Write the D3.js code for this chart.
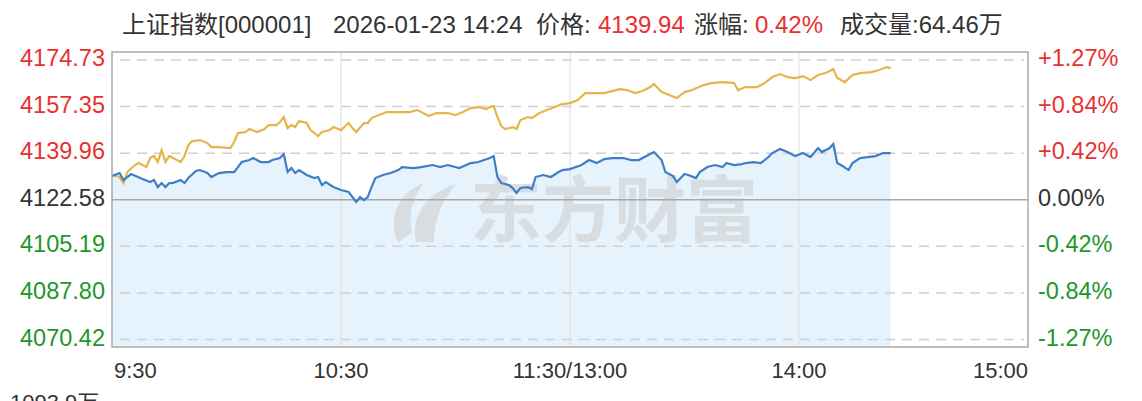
<!DOCTYPE html>
<html>
<head>
<meta charset="utf-8">
<script src="https://cdn.jsdelivr.net/npm/d3@7"></script>
<style>
  html, body { margin: 0; padding: 0; background: #fff; overflow: hidden; }
  text { font-family: "Liberation Sans", Arial, "Noto Sans CJK SC", sans-serif; }
</style>
</head>
<body>
<div class="visHolder"></div>
<script>
// ========================================
// Data (minutes since 9:30, lunch break removed)
// ========================================
const priceMinutes = [0, 2, 3, 5, 8, 10, 11, 12, 13, 14, 15, 16, 18, 19, 20, 22, 23, 25, 26, 28, 30, 32, 33, 34, 36, 37, 39, 41, 42, 44, 45, 46, 47, 48, 49, 51, 53, 54, 55, 56, 58, 60, 62, 64, 65, 66, 67, 68, 69, 71, 73, 75, 76, 79, 81, 84, 86, 88, 91, 94, 96, 99, 100, 101, 102, 104, 105, 106, 107, 109, 110, 111, 113, 115, 117, 118, 120, 123, 125, 127, 129, 131, 134, 136, 138, 140, 142, 144, 145, 147, 148, 150, 151, 153, 154, 156, 158, 160, 161, 163, 165, 166, 168, 170, 172, 173, 175, 177, 179, 181, 183, 185, 186, 188, 189, 190, 191, 193, 194, 196, 198, 200, 202, 203, 204];
const priceValues = [4131.42, 4132.54, 4129.93, 4132.17, 4130.30, 4129.18, 4129.93, 4127.32, 4128.81, 4127.32, 4128.81, 4128.90, 4129.93, 4128.81, 4130.68, 4133.29, 4133.66, 4132.54, 4131.05, 4132.54, 4132.91, 4132.91, 4134.78, 4136.65, 4137.39, 4138.14, 4136.65, 4136.65, 4137.39, 4138.14, 4139.63, 4132.91, 4134.41, 4132.54, 4133.66, 4131.80, 4130.68, 4131.05, 4128.06, 4129.18, 4127.32, 4126.20, 4125.45, 4121.72, 4123.58, 4122.47, 4123.58, 4127.32, 4130.68, 4131.80, 4132.54, 4133.66, 4134.78, 4134.41, 4134.78, 4135.53, 4134.78, 4135.53, 4134.41, 4136.27, 4136.65, 4138.14, 4138.88, 4131.05, 4128.81, 4128.06, 4126.95, 4125.08, 4126.95, 4127.32, 4126.57, 4131.05, 4131.80, 4131.05, 4132.91, 4133.66, 4134.03, 4135.53, 4137.39, 4136.27, 4137.77, 4138.14, 4138.14, 4137.39, 4137.39, 4138.88, 4140.38, 4137.39, 4132.91, 4131.42, 4129.18, 4132.17, 4131.80, 4130.68, 4132.91, 4134.78, 4135.53, 4134.78, 4136.27, 4135.53, 4135.90, 4136.27, 4136.65, 4136.27, 4138.51, 4140.00, 4141.50, 4140.38, 4138.88, 4140.00, 4138.51, 4141.87, 4140.38, 4141.87, 4143.36, 4136.27, 4135.53, 4133.66, 4136.27, 4138.14, 4138.51, 4138.88, 4140.00, 4140.00, 4139.94];

const leadMinutes = [0, 2, 3, 4, 6, 7, 9, 10, 11, 12, 13, 14, 15, 16, 18, 19, 20, 21, 23, 25, 26, 28, 31, 32, 33, 35, 36, 38, 40, 41, 43, 44, 45, 46, 47, 48, 49, 51, 52, 54, 55, 57, 58, 60, 62, 63, 64, 66, 67, 68, 70, 72, 73, 75, 78, 80, 83, 85, 88, 90, 92, 94, 96, 98, 99, 100, 101, 102, 103, 105, 106, 107, 109, 110, 112, 114, 116, 118, 120, 122, 124, 126, 129, 130, 133, 135, 137, 139, 141, 142, 144, 146, 148, 150, 152, 155, 157, 160, 163, 164, 166, 169, 171, 173, 175, 177, 179, 181, 183, 185, 187, 189, 190, 192, 194, 196, 199, 201, 203, 204];
const leadValues = [4131.80, 4131.05, 4128.81, 4132.91, 4135.53, 4136.27, 4134.78, 4138.14, 4138.88, 4136.65, 4141.12, 4136.65, 4138.88, 4138.14, 4136.65, 4138.88, 4142.99, 4144.48, 4144.85, 4143.73, 4142.24, 4142.24, 4141.87, 4144.11, 4147.47, 4147.84, 4148.96, 4147.84, 4148.96, 4150.45, 4150.45, 4151.57, 4153.44, 4149.33, 4150.45, 4149.70, 4151.94, 4151.20, 4148.59, 4146.35, 4147.84, 4148.59, 4149.70, 4148.59, 4151.20, 4149.33, 4147.84, 4151.20, 4151.20, 4153.06, 4154.18, 4155.30, 4155.30, 4155.30, 4155.30, 4156.05, 4153.81, 4154.93, 4154.93, 4154.18, 4155.30, 4156.79, 4157.17, 4156.42, 4157.17, 4157.54, 4153.44, 4150.08, 4148.96, 4149.70, 4148.96, 4152.32, 4153.44, 4153.06, 4154.93, 4156.05, 4157.17, 4158.29, 4158.66, 4159.78, 4162.39, 4162.39, 4162.39, 4162.76, 4163.88, 4163.51, 4162.39, 4163.14, 4164.63, 4165.75, 4162.76, 4161.64, 4160.52, 4162.76, 4163.51, 4165.37, 4166.12, 4166.49, 4166.12, 4163.51, 4164.63, 4164.63, 4166.12, 4168.36, 4169.48, 4168.36, 4167.99, 4168.73, 4167.24, 4169.11, 4169.85, 4171.34, 4167.99, 4166.49, 4169.11, 4169.85, 4170.22, 4170.97, 4172.09, 4171.72];

const priceTicks = [4174.73, 4157.35, 4139.96, 4122.58, 4105.19, 4087.80, 4070.42];
const pctTicks = ['+1.27%', '+0.84%', '+0.42%', '0.00%', '-0.42%', '-0.84%', '-1.27%'];
const prevClose = 4122.58;
const timeTicks = [0, 60, 120, 180, 240];
const timeLabels = ['9:30', '10:30', '11:30/13:00', '14:00', '15:00'];

// ========================================
// Dimensions and colours
// ========================================
const
  width = 1142,
  height = 401,
  plotLeft = 112,      // plot frame
  plotRight = 1028,
  plotTop = 52,
  plotBottom = 347,
  gridTop = 60,        // first / last price gridline
  gridBottom = 339.5,
  red = '#e8312f',
  green = '#22962b',
  grey = '#333',
  blue = '#3f7ec6',
  gold = '#e6b54a',
  fill = '#e6f3fd',
  headSize = 24,       // header text
  ySize = 23.5,        // price / percent labels
  xSize = 22;          // time labels

const svg = d3.select('.visHolder')
  .append('svg')
    .attr('width', width)
    .attr('height', height);

const x = d3.scaleLinear().domain([0, 240]).range([plotLeft, plotRight]);
const y = d3.scaleLinear().domain([priceTicks[6], priceTicks[0]]).range([gridBottom, gridTop]);

const colorOf = v => v > prevClose ? red : (v < prevClose ? green : grey);

const price = priceMinutes.map((m, i) => ({m: m, v: priceValues[i]}));
const lead = leadMinutes.map((m, i) => ({m: m, v: leadValues[i]}));

// ========================================
// Area under the price line
// ========================================
svg.append('path')
  .datum(price)
  .attr('d', d3.area().x(d => x(d.m)).y0(plotBottom).y1(d => y(d.v)))
  .attr('fill', fill);

// ========================================
// Gridlines
// ========================================
svg.selectAll('.vgrid')
  .data(timeTicks.slice(1, 4))
  .enter()
  .append('line')
    .attr('x1', d => x(d)).attr('x2', d => x(d))
    .attr('y1', plotTop).attr('y2', plotBottom)
    .attr('stroke', '#e2e2e2')
    .attr('stroke-width', 1.2);

svg.selectAll('.hgrid')
  .data(priceTicks.filter(v => v !== prevClose))
  .enter()
  .append('line')
    .attr('x1', plotLeft + 8).attr('x2', plotRight - 4)
    .attr('y1', d => y(d)).attr('y2', d => y(d))
    .attr('stroke', '#d0d0d0')
    .attr('stroke-width', 1.5)
    .attr('stroke-dasharray', '10,7');

// ========================================
// Watermark
// ========================================
const wm = svg.append('g').attr('fill', '#d6dade').attr('opacity', 0.85);
wm.append('path')
  .attr('d', 'M398,243 C388,220 396,194 424,183 C412,198 408,216 412,232 Z M416,242 C411,218 424,194 456,184 C442,200 434,220 434,242 Z');
wm.append('text')
  .attr('x', 470)
  .attr('y', 236)
  .attr('font-size', 72)
  .attr('font-weight', 'bold')
  .style('font-family', '"Noto Sans CJK SC", sans-serif')
  .text('东方财富');

// baseline (previous close)
svg.append('line')
  .attr('x1', plotLeft).attr('x2', plotRight)
  .attr('y1', y(prevClose)).attr('y2', y(prevClose))
  .attr('stroke', '#a8a8a8')
  .attr('stroke-width', 1.5);

// ========================================
// Lines
// ========================================
const line = d3.line().x(d => x(d.m)).y(d => y(d.v));

svg.append('path')
  .datum(lead)
  .attr('d', line)
  .attr('fill', 'none')
  .attr('stroke', gold)
  .attr('stroke-width', 2.2);

svg.append('path')
  .datum(price)
  .attr('d', line)
  .attr('fill', 'none')
  .attr('stroke', blue)
  .attr('stroke-width', 2.2);

// frame
svg.append('rect')
  .attr('x', plotLeft).attr('y', plotTop)
  .attr('width', plotRight - plotLeft).attr('height', plotBottom - plotTop)
  .attr('fill', 'none')
  .attr('stroke', '#aaa')
  .attr('stroke-width', 1.5);

// ========================================
// Axis labels
// ========================================
svg.selectAll('.ylabel')
  .data(priceTicks)
  .enter()
  .append('text')
    .attr('x', plotLeft - 7)
    .attr('y', d => y(d) + 6)
    .attr('text-anchor', 'end')
    .attr('font-size', ySize)
    .attr('fill', d => colorOf(d))
    .text(d => d.toFixed(2));

svg.selectAll('.pctlabel')
  .data(priceTicks)
  .enter()
  .append('text')
    .attr('x', plotRight + 10)
    .attr('y', d => y(d) + 6)
    .attr('font-size', ySize)
    .attr('fill', d => colorOf(d))
    .text((d, i) => pctTicks[i]);

svg.selectAll('.xlabel')
  .data(timeTicks)
  .enter()
  .append('text')
    .attr('x', d => x(d) + (d === 0 ? 2 : 0))
    .attr('y', 378)
    .attr('text-anchor', (d, i) => i === 0 ? 'start' : (i === timeTicks.length - 1 ? 'end' : 'middle'))
    .attr('font-size', xSize)
    .attr('fill', grey)
    .text((d, i) => timeLabels[i]);

// volume chart label, cut by the bottom edge as in the source
svg.append('text')
  .attr('x', 10)
  .attr('y', 410)
  .attr('font-size', xSize)
  .attr('fill', grey)
  .text('1093.9万');

// ========================================
// Header
// ========================================
const header = [
  {x: 122, t: '上证指数[000001]', c: grey},
  {x: 333, t: '2026-01-23 14:24', c: grey},
  {x: 536, t: '价格:', c: grey},
  {x: 598, t: '4139.94', c: red},
  {x: 694, t: '涨幅:', c: grey},
  {x: 755, t: '0.42%', c: red},
  {x: 840, t: '成交量:64.46万', c: grey}
];
svg.selectAll('.head')
  .data(header)
  .enter()
  .append('text')
    .attr('x', d => d.x)
    .attr('y', 33)
    .attr('font-size', headSize)
    .attr('fill', d => d.c)
    .text(d => d.t);
</script>
</body>
</html>
